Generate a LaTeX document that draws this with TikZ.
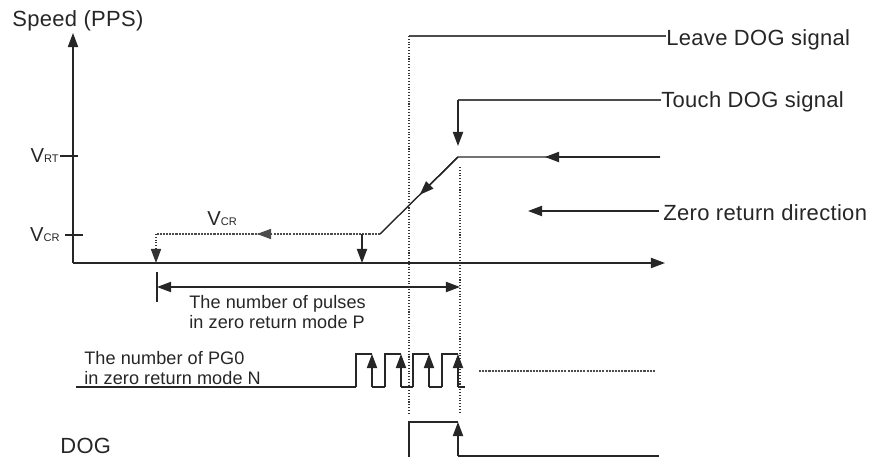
\documentclass[tikz,border=0pt]{standalone}
\usepackage{fontspec}
\setmainfont{Liberation Sans}
\newfontfamily\lblfont[LetterSpace=1.5]{Liberation Sans}
\newfontfamily\notefont[LetterSpace=0.5]{Liberation Sans}
\usetikzlibrary{arrows.meta,calc}

% speed symbol with small subscript letters
\newcommand\vsym[1]{{\fontsize{11.5}{13}\selectfont V}{\fontsize{6.3}{7}\selectfont #1}}

\begin{document}
\begin{tikzpicture}[
  x=0.02cm, y=-0.02cm,
  every node/.style={inner sep=0pt, text=black!85},
  biglbl/.style={font={\lblfont\fontsize{12.5}{14}\selectfont}},
  notelbl/.style={font={\notefont\fontsize{10.3}{11.3}\selectfont}, align=left},
  sig/.style={line width=0.8pt, draw=black!85},
  lead/.style={line width=0.8pt, draw=black!70},
  tip/.style={-{Triangle[length=8pt,width=5.8pt]}},
  vdots/.style={line width=0.6pt, draw=black!80, densely dotted},
  hdots/.style={line width=0.7pt, draw=black!70, dash pattern=on 1.2pt off 0.6pt},
]
\useasboundingbox (0,0) rectangle (877,457);

% Axes
\coordinate (O) at (73,263);
\coordinate (Ytop) at (73,33);
\coordinate (Xend) at (665,263);
\draw[sig,tip] (O) -- (Ytop);
\draw[sig,tip] (O) -- (Xend);
\node[biglbl, anchor=base west] (speed) at (12,26) {Speed (PPS)};

% Speed levels
\draw[sig] (60,156) -- (78,156);
\draw[sig] (65,235) -- (83,235);
\node[anchor=base east] (vrt) at (59,162) {\vsym{RT}};
\node[anchor=base east] (vcr) at (60,241) {\vsym{CR}};

% Speed profile
\coordinate (Hi) at (660,157);
\coordinate (Touch) at (458,157);
\coordinate (Cr) at (380,234);
\coordinate (CrEnd) at (156,234);
\draw[sig] (Hi) -- (Touch) -- (Cr);
\draw[sig,tip] (Hi) -- (545,157);
\draw[sig,tip] (Touch) -- ($(Touch)!0.49!(Cr)$);
\draw[hdots] (Cr) -- (CrEnd);
\draw[hdots,tip] (Cr) -- (257,234);
\draw[vdots,tip] (CrEnd) -- (CrEnd |- O);
\draw[sig,tip] (362,234) -- (362,263);
\node[anchor=base west] (vcrlbl) at (207,225) {\vsym{CR}};

% Leave DOG signal
\coordinate (Leave) at (409,36);
\node[biglbl, anchor=base west] (leave) at (666,45) {Leave DOG signal};
\draw[lead] (Leave -| leave.west) -- (Leave);
\draw[vdots] (Leave) -- (409,413);

% Touch DOG signal
\coordinate (TouchTop) at (458,100);
\node[biglbl, anchor=base west] (touch) at (661,107) {Touch DOG signal};
\draw[lead] (TouchTop -| touch.west) -- (TouchTop);
\draw[sig,tip] (TouchTop) -- (458,146);
\draw[vdots] (460,167) -- (460,412);

% Zero return direction
\coordinate (ZeroTip) at (528,211);
\node[biglbl, anchor=base west] (zero) at (663,220) {Zero return direction};
\draw[sig,tip] ([xshift=-2pt]ZeroTip -| zero.west) -- (ZeroTip);

% Pulses P
\coordinate (Pstart) at (157,287);
\coordinate (Pend) at (460,287);
\draw[sig] (157,272) -- (157,302);
\draw[sig,{Triangle[length=8pt,width=5.8pt]}-{Triangle[length=8pt,width=5.8pt]}] (Pstart) -- (Pend);
\node[notelbl, anchor=west] (pulses) at (189,312) {The number of pulses\\in zero return mode P};

% PG0 pulses N
\node[notelbl, anchor=west] (pgzero) at (84,368) {The number of PG0\\in zero return mode N};
\draw[sig] (76,387) -- (356,387);
\foreach \r/\n in {356/385,385/413,413/442,442/465} {
  \draw[sig] (\r,387) -- (\r,354) -- (\r+16,354);
  \draw[sig,tip] (\r+16,387) -- (\r+16,354);
  \draw[sig] (\r+16,387) -- (\n,387);
}
\draw[hdots] (479,371) -- (656,371);

% DOG
\node[biglbl, anchor=base west] (dog) at (60,453) {DOG};
\draw[sig] (409,457) -- (409,422) -- (458,422);
\draw[sig,tip] (458,456) -- (458,422);
\draw[sig] (458,456) -- (659,456);

\end{tikzpicture}
\end{document}
